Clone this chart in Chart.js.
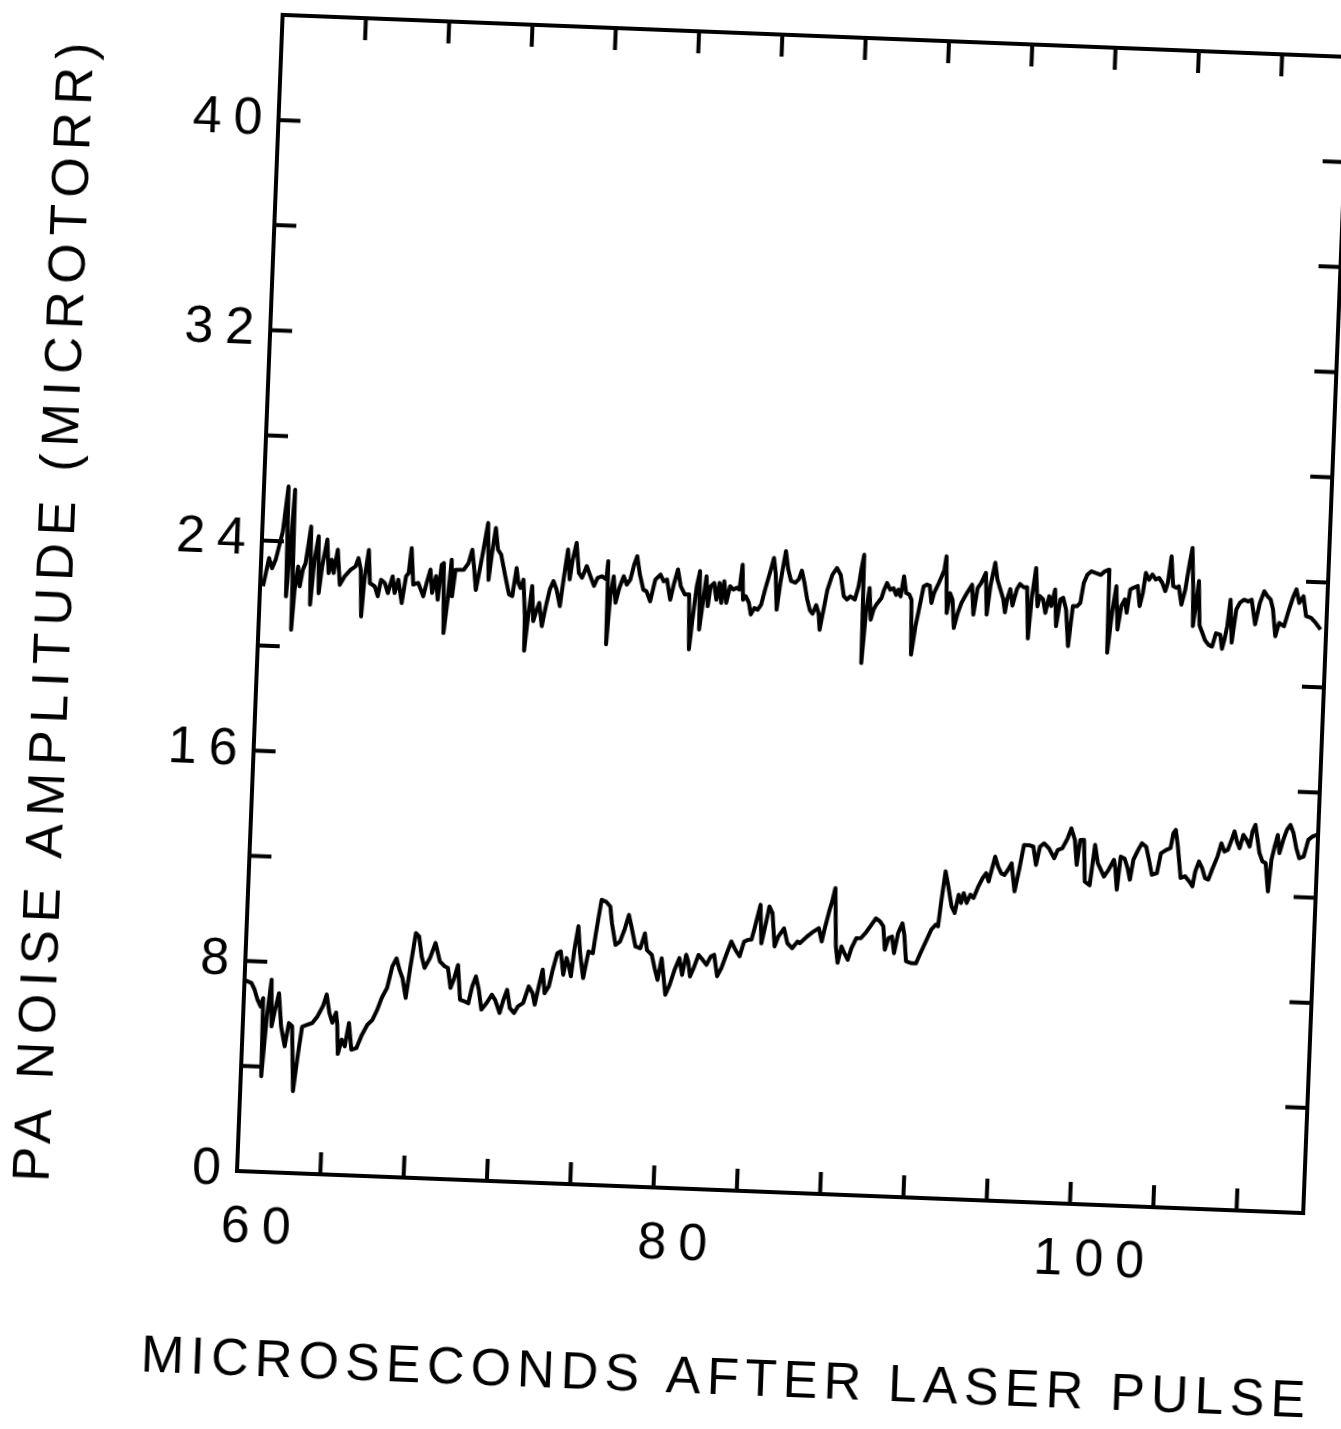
<!DOCTYPE html>
<html>
<head>
<meta charset="utf-8">
<title>PA noise amplitude</title>
<script src="https://cdn.jsdelivr.net/npm/chart.js@4.4.1/dist/chart.umd.min.js"></script>
<style>
  html, body { margin: 0; padding: 0; background: #fff; overflow: hidden; }
  /* the scanned figure sits about 2.3 degrees off square */
  #myChart { display: block; transform-origin: 237px 1171px; transform: rotate(2.26deg); }
</style>
</head>
<body>
<canvas id="myChart" width="1341" height="1429"></canvas>
<script>
// upper trace (around 23 microtorr)
var upperX = [
  60.14,60.38,60.54,60.70,60.99,61.18,61.26,61.38,61.50,61.57,61.66,61.79,61.90,62.02,62.14,62.34,62.43,62.56,62.72,62.82,62.94,63.14,63.26,63.39,63.50,63.66,63.82,64.03,64.30,64.54,64.67,64.80,64.90,64.99,65.15,65.26,65.50,65.66,65.79,65.98,66.14,66.34,66.46,66.62,66.82,66.98,67.10,67.20,67.34,67.58,67.84,67.98,68.14,68.26,68.42,68.54,68.67,68.77,68.88,69.02,69.14,69.22,69.34,69.54,69.74,69.95,70.11,70.22,70.35,70.50,70.62,70.82,70.94,71.06,71.20,71.34,
  71.50,71.74,71.95,72.11,72.27,72.38,72.49,72.62,72.75,72.78,72.91,73.05,73.16,73.29,73.42,73.58,73.74,73.90,74.06,74.22,74.41,74.54,74.70,74.83,74.94,75.10,75.26,75.42,75.63,75.82,76.01,76.17,76.38,76.59,76.65,76.70,76.81,76.94,77.07,77.23,77.42,77.58,77.74,77.90,78.03,78.19,78.38,78.54,78.73,78.94,79.18,79.34,79.50,79.69,79.85,80.01,80.17,80.38,80.59,80.68,80.78,80.94,81.07,81.13,81.26,81.39,81.50,81.61,81.77,81.90,82.03,82.14,82.25,82.38,82.54,82.70,82.86,82.99,83.10,83.18,83.31,83.47,83.58,83.74,83.90,84.06,84.22,
  84.46,84.59,84.70,84.81,84.94,85.15,85.29,85.45,85.66,85.82,85.95,86.09,86.25,86.41,86.54,86.70,86.83,86.91,87.21,87.42,87.63,87.82,88.01,88.17,88.33,88.54,88.70,88.81,88.91,88.97,89.10,89.23,89.34,89.46,89.58,89.82,89.93,90.06,90.22,90.38,90.51,90.62,90.73,90.86,90.99,91.15,91.26,91.34,91.50,91.66,91.82,91.98,92.11,92.22,92.33,92.54,92.70,92.78,92.86,92.97,93.10,93.23,93.34,93.50,93.66,93.90,94.14,94.25,94.41,94.57,94.78,94.89,95.02,95.21,95.34,95.50,95.66,95.76,95.85,95.98,96.11,96.30,96.43,96.62,96.78,96.91,97.02,97.18,97.31,
  97.41,97.57,97.70,97.86,97.97,98.13,98.24,98.40,98.53,98.69,98.85,99.01,99.20,99.36,99.49,99.65,99.84,100.05,100.29,100.48,100.69,100.74,100.90,101.06,101.19,101.33,101.49,101.60,101.73,101.89,102.08,102.21,102.34,102.45,102.61,102.77,102.93,103.09,103.25,103.41,103.52,103.65,103.78,103.94,104.05,104.21,104.37,104.53,104.64,104.74,104.80,104.90,105.01,105.12,105.25,105.41,105.60,105.76,105.92,106.13,106.24,106.34,106.45,106.56,106.69,106.85,107.01,107.20,107.41,107.57,107.78,107.97,108.16,108.32,108.48,108.61,108.77,108.93,109.17,109.38,109.57,109.70,109.86,110.05,110.21,110.45,110.69,110.93
];
var upperY = [
  22.26,23.34,22.96,23.29,24.37,26.09,21.91,23.69,25.97,20.65,22.17,23.06,22.31,22.95,23.2,24.6,21.63,23.34,24.24,22.08,23.1,24.13,22.86,23.37,22.87,23.76,22.43,22.75,23.01,23.15,23.47,23.03,21.26,22.66,23.8,22.54,22.42,22.05,22.68,22.56,22.19,22.83,22.2,22.71,21.83,22.85,22.98,23.93,22.55,22.62,22.12,22.63,23.14,22.26,22.9,22.01,23.34,23.41,20.75,22.03,23.55,22.16,23.17,23.18,23.19,23.44,23.96,23.33,22.44,23.21,23.85,25.0,22.84,23.86,24.82,24.0,
  23.82,23.00,22.32,22.26,23.33,22.77,22.58,22.9,21.52,20.2,21.52,22.67,21.34,21.72,22.04,21.16,21.92,22.57,22.89,22.58,21.95,22.97,24.11,22.98,23.73,24.38,23.24,23.06,23.51,23.13,22.77,23.08,23.15,23.03,23.73,20.57,22.40,23.16,22.16,22.73,23.18,22.87,23.06,23.64,23.96,23.27,22.70,22.64,22.27,23.1,23.30,23.05,23.12,22.36,23.0,23.52,22.89,22.58,22.59,20.50,21.51,22.91,23.49,21.27,22.29,23.3,22.17,22.93,23.06,22.43,23.07,22.31,23.14,22.32,22.96,22.84,22.91,22.85,23.8,22.47,22.6,22.36,21.92,22.17,22.11,22.31,22.88,
  23.65,24.1,23.53,22.14,23.17,24.38,23.7,23.25,23.19,23.33,23.66,23.23,22.6,22.16,22.04,22.37,22.07,21.44,22.97,23.55,23.81,23.56,22.75,22.63,22.76,22.64,23.15,23.85,24.36,20.24,22.15,23.1,21.9,22.29,22.48,22.74,23.06,23.32,23.07,23.13,22.88,23.08,22.83,23.6,22.97,22.91,22.72,20.63,21.72,22.48,23.25,23.32,23.28,22.63,23.01,23.4,23.72,23.91,24.42,22.27,23.03,22.78,21.71,22.28,22.67,23.05,23.38,22.25,23.26,23.46,23.85,22.27,23.36,24.25,23.62,23.25,22.88,22.38,22.89,23.27,22.65,23.29,23.48,23.36,23.37,21.42,22.94,24.11,22.66,
  23.05,22.93,22.42,23.06,22.69,23.32,21.93,22.95,23.02,22.58,21.19,22.72,22.72,22.85,23.62,23.94,24.07,24.01,23.95,24.09,24.16,21.0,22.52,23.54,21.90,22.79,23.05,22.55,23.44,23.51,23.58,22.82,23.33,24.09,23.84,24.04,23.86,23.92,23.74,23.43,23.75,24.76,23.63,23.57,23.63,22.94,23.52,24.53,25.11,23.66,22.14,22.9,23.86,22.17,21.93,21.62,21.44,21.39,21.9,21.85,21.32,21.68,22.19,23.2,21.57,22.83,23.09,23.22,23.16,23.23,22.30,23.12,23.57,23.39,23.27,22.9,21.88,22.39,22.27,22.91,23.43,23.69,23.18,23.44,22.69,22.63,22.44,22.2
];

// lower trace (rising from about 6 to 14 microtorr)
var lowerX = [
  60.0,60.34,60.50,60.66,60.82,60.93,60.98,61.14,61.30,61.38,61.52,61.68,61.84,62.05,62.21,62.37,62.53,62.69,62.85,63.09,63.33,63.57,63.81,63.97,64.13,64.29,64.45,64.53,64.61,64.77,64.93,65.09,65.25,65.49,65.73,65.97,66.21,66.42,66.61,66.85,67.06,67.25,67.41,67.57,67.76,67.92,68.13,68.29,68.45,68.61,68.85,69.09,69.33,69.57,69.73,69.89,70.05,70.21,70.37,70.61,70.77,70.93,71.09,71.25,71.41,71.65,71.89,72.05,72.29,72.45,72.61,72.77,72.98,
  73.16,73.40,73.64,73.83,73.96,74.15,74.28,74.41,74.60,74.76,74.95,75.11,75.27,75.40,75.53,75.64,75.75,75.91,76.04,76.23,76.44,76.65,76.76,76.97,77.19,77.40,77.51,77.72,77.93,78.12,78.31,78.47,78.68,78.92,79.11,79.24,79.48,79.64,79.80,79.96,80.04,80.20,80.39,80.60,80.81,80.97,81.13,81.24,81.35,81.51,81.72,81.93,82.12,82.31,82.47,82.65,82.84,83.05,83.27,83.48,83.69,83.88,84.07,84.23,84.36,84.60,84.71,84.92,85.03,85.19,85.35,85.51,85.77,85.96,86.20,86.44,
  86.56,86.88,87.20,87.44,87.60,87.71,87.92,88.03,88.16,88.29,88.40,88.56,88.67,88.88,89.04,89.25,89.47,89.68,89.95,90.16,90.37,90.53,90.64,90.80,90.96,91.09,91.25,91.44,91.55,91.68,91.92,92.16,92.32,92.56,92.83,93.04,93.15,93.25,93.41,93.57,93.76,93.92,94.08,94.21,94.32,94.48,94.64,94.80,95.01,95.20,95.36,95.49,95.60,95.76,95.92,96.08,96.24,96.40,96.56,96.67,96.75,96.93,97.12,97.36,97.57,97.73,97.89,98.08,98.32,98.59,98.75,98.96,99.20,99.36,99.55,99.68,99.81,
  99.99,100.10,100.34,100.53,100.69,100.85,101.01,101.22,101.46,101.54,101.65,101.78,101.97,102.13,102.26,102.39,102.61,102.77,102.98,103.14,103.30,103.54,103.70,103.94,104.15,104.26,104.37,104.50,104.69,104.90,105.11,105.27,105.38,105.54,105.70,105.86,106.02,106.18,106.42,106.58,106.74,106.90,107.06,107.19,107.32,107.46,107.62,107.78,107.94,108.05,108.18,108.31,108.42,108.58,108.74,108.90,109.01,109.14,109.27,109.38,109.54,109.70,109.86,110.02,110.18,110.34,110.55,110.74,110.93,111.14
];
var lowerY = [
  7.27,7.16,6.92,6.54,6.29,6.61,3.64,5.92,7.32,5.55,6.18,6.82,5.56,4.81,5.7,5.58,3.12,4.45,5.58,5.66,5.74,6.0,6.39,6.84,6.15,5.78,6.17,5.72,4.6,5.15,4.9,5.79,4.78,4.85,5.36,5.75,5.95,6.34,6.79,7.18,8.0,8.32,7.89,7.58,6.83,7.97,9.31,9.19,8.43,8.0,8.38,8.96,8.27,8.09,8.03,7.28,7.65,8.16,6.84,6.78,6.72,7.37,7.75,7.25,6.5,6.76,7.08,6.89,6.4,6.9,7.29,6.6,6.42,
  6.68,6.81,7.45,7.21,6.77,7.6,8.11,7.22,7.48,8.12,8.76,8.83,7.95,8.59,8.28,7.9,8.85,9.81,8.79,7.85,8.87,8.81,9.57,10.85,10.79,10.61,9.98,9.16,9.29,9.74,10.32,9.82,9.13,9.07,9.64,9.01,8.83,8.33,7.89,8.72,8.28,7.34,7.72,8.3,8.75,8.12,8.89,8.64,8.07,8.39,8.9,8.72,8.54,8.86,8.93,8.12,8.44,8.95,9.46,9.15,8.91,9.48,9.55,9.56,10.0,10.9,9.44,10.33,10.85,10.6,9.34,9.72,10.04,9.48,9.3,9.56,
  9.5,9.76,9.97,10.1,9.6,10.05,10.81,11.14,11.65,9.43,8.81,9.44,9.25,8.94,9.39,9.77,9.78,9.98,10.3,10.56,10.44,10.26,9.38,9.83,9.89,9.26,10.03,10.41,9.98,8.97,8.91,8.91,9.23,9.69,10.21,10.41,10.35,11.23,12.45,11.88,11.13,10.88,11.58,11.27,11.65,11.28,11.6,11.48,11.93,12.25,12.44,12.13,12.51,13.08,12.71,12.46,12.4,12.6,12.85,12.23,11.79,12.61,13.57,13.57,13.52,12.83,13.53,13.66,13.48,13.11,13.43,13.5,13.89,14.27,13.84,12.89,13.84,
  13.85,12.27,12.14,13.68,12.99,12.74,12.49,12.75,13.14,12.82,12.01,13.27,13.2,12.84,12.41,13.17,13.56,13.81,13.69,13.19,12.63,12.7,13.46,13.59,13.67,14.24,14.37,13.74,12.55,12.62,12.43,12.25,12.82,13.2,12.96,12.58,12.53,12.91,13.42,13.93,13.62,13.69,14.07,14.4,14.02,13.77,14.28,14.1,13.85,14.42,14.68,14.11,13.62,13.3,13.24,12.17,13.37,13.88,14.33,13.64,14.15,14.54,14.73,14.42,13.86,13.48,13.55,14.19,14.32,14.39
];

var xRange = [60, 111.2];
var yRange = [0, 44];
var minorStep = 4;
var xLabels = [60, 80, 100];
var yLabels = [0, 8, 16, 24, 32, 40];
var xTitle = 'MICROSECONDS AFTER LASER PULSE';
var yTitle = 'PA NOISE AMPLITUDE (MICROTORR)';

var fontFamily = "'Liberation Sans', Arial, sans-serif";

function toPoints(xs, ys) {
  var pts = [];
  for (var i = 0; i < Math.min(xs.length, ys.length); i++) {
    pts.push({ x: xs[i], y: ys[i] });
  }
  return pts;
}

// wide typewriter-ish spacing of the tick numbers
var spacing = {
  id: 'spacing',
  beforeLayout: function (chart) { chart.ctx.letterSpacing = '12px'; },
  beforeDraw: function (chart) { chart.ctx.letterSpacing = '12px'; }
};

// box round the plot with ticks pointing inward on all four sides
var frameTicks = {
  id: 'frameTicks',
  afterDatasetsDraw: function (chart) {
    var ctx = chart.ctx;
    var a = chart.chartArea;
    var xs = chart.scales.x;
    var ys = chart.scales.y;
    var len = 22;
    ctx.save();
    ctx.strokeStyle = '#000';
    ctx.lineWidth = 4;
    ctx.strokeRect(a.left, a.top, a.right - a.left, a.bottom - a.top);
    ctx.beginPath();
    for (var v = xRange[0] + minorStep; v < xRange[1] - 0.5; v += minorStep) {
      var px = xs.getPixelForValue(v);
      ctx.moveTo(px, a.bottom); ctx.lineTo(px, a.bottom - len);
      ctx.moveTo(px, a.top); ctx.lineTo(px, a.top + len);
    }
    for (var w = yRange[0] + minorStep; w < yRange[1] - 0.5; w += minorStep) {
      var py = ys.getPixelForValue(w);
      ctx.moveTo(a.left, py); ctx.lineTo(a.left + len, py);
      ctx.moveTo(a.right, py); ctx.lineTo(a.right - len, py);
    }
    ctx.stroke();
    ctx.restore();
  }
};

// axis titles, placed as in the scan rather than centred on the axes
var axisTitles = {
  id: 'axisTitles',
  afterDraw: function (chart) {
    var ctx = chart.ctx;
    var a = chart.chartArea;
    ctx.save();
    ctx.fillStyle = '#000';
    ctx.font = '52px ' + fontFamily;
    ctx.textAlign = 'center';
    ctx.textBaseline = 'middle';
    ctx.letterSpacing = '6.2px';
    ctx.fillText(xTitle, a.left + 497, a.bottom + 190);
    ctx.translate(a.left - 202, a.bottom - 555);
    ctx.rotate(-Math.PI / 2);
    ctx.letterSpacing = '7.5px';
    ctx.fillText(yTitle, 0, 0);
    ctx.restore();
  }
};

Chart.defaults.font.family = fontFamily;
Chart.defaults.color = '#000';

var ctx = document.getElementById('myChart').getContext('2d');
var myChart = new Chart(ctx, {
  type: 'line',
  data: {
    datasets: [
      { label: 'upper', data: toPoints(upperX, upperY) },
      { label: 'lower', data: toPoints(lowerX, lowerY) }
    ]
  },
  options: {
    responsive: false,
    animation: false,
    events: [],
    layout: { padding: { left: 0, top: 14, right: 37, bottom: 0 } },
    elements: {
      line: { borderColor: '#000', borderWidth: 4, tension: 0, borderJoinStyle: 'round' },
      point: { radius: 0 }
    },
    plugins: { legend: { display: false }, tooltip: { enabled: false } },
    scales: {
      x: {
        type: 'linear',
        min: xRange[0],
        max: xRange[1],
        grid: { display: false },
        border: { display: false },
        afterFit: function (s) {
          s.height = 258;
          s.paddingLeft = 0;
          s.paddingRight = 0;
        },
        ticks: {
          stepSize: minorStep,
          autoSkip: false,
          maxRotation: 0,
          minRotation: 0,
          padding: 17,
          labelOffset: 27,
          font: { size: 52 },
          callback: function (v) { return xLabels.indexOf(v) >= 0 ? String(v) : ''; }
        }
      },
      y: {
        min: yRange[0],
        max: yRange[1],
        grid: { display: false },
        border: { display: false },
        afterFit: function (s) {
          s.width = 237;
          s.paddingTop = 0;
          s.paddingBottom = 0;
        },
        ticks: {
          stepSize: minorStep,
          autoSkip: false,
          padding: -4,
          font: { size: 52 },
          callback: function (v) { return yLabels.indexOf(v) >= 0 ? String(v) : ''; }
        }
      }
    }
  },
  plugins: [spacing, frameTicks, axisTitles]
});
</script>
</body>
</html>
